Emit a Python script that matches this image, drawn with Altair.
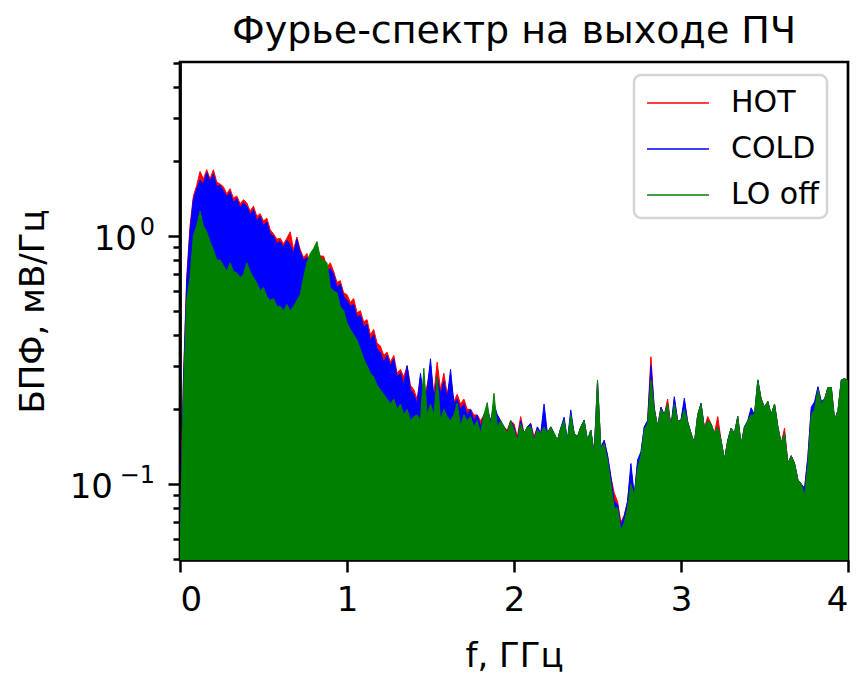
import altair as alt
import pandas as pd

# ---- data (upper envelope of the dense FFT spectra) ----
FREQ = [
    0.00, 0.02, 0.04, 0.06, 0.08, 0.10, 0.12, 0.14, 0.16, 0.18,
    0.20, 0.22, 0.24, 0.26, 0.28, 0.30, 0.32, 0.34, 0.36, 0.38,
    0.40, 0.42, 0.44, 0.46, 0.48, 0.50, 0.52, 0.54, 0.56, 0.58,
    0.60, 0.62, 0.64, 0.66, 0.68, 0.70, 0.72, 0.74, 0.76, 0.78,
    0.80, 0.82, 0.84, 0.86, 0.88, 0.90, 0.92, 0.94, 0.96, 0.98,
    1.00, 1.02, 1.04, 1.06, 1.08, 1.10, 1.12, 1.14, 1.16, 1.18,
    1.20, 1.22, 1.24, 1.26, 1.28, 1.30, 1.32, 1.34, 1.36, 1.38,
    1.40, 1.42, 1.44, 1.46, 1.48, 1.50, 1.52, 1.54, 1.56, 1.58,
    1.60, 1.62, 1.64, 1.66, 1.68, 1.70, 1.72, 1.74, 1.76, 1.78,
    1.80, 1.82, 1.84, 1.86, 1.88, 1.90, 1.92, 1.94, 1.96, 1.98,
    2.00, 2.02, 2.04, 2.06, 2.08, 2.10, 2.12, 2.14, 2.16, 2.18,
    2.20, 2.22, 2.24, 2.26, 2.28, 2.30, 2.32, 2.34, 2.36, 2.38,
    2.40, 2.42, 2.44, 2.46, 2.48, 2.50, 2.52, 2.54, 2.56, 2.58,
    2.60, 2.62, 2.64, 2.66, 2.68, 2.70, 2.72, 2.74, 2.76, 2.78,
    2.80, 2.82, 2.84, 2.86, 2.88, 2.90, 2.92, 2.94, 2.96, 2.98,
    3.00, 3.02, 3.04, 3.06, 3.08, 3.10, 3.12, 3.14, 3.16, 3.18,
    3.20, 3.22, 3.24, 3.26, 3.28, 3.30, 3.32, 3.34, 3.36, 3.38,
    3.40, 3.42, 3.44, 3.46, 3.48, 3.50, 3.52, 3.54, 3.56, 3.58,
    3.60, 3.62, 3.64, 3.66, 3.68, 3.70, 3.72, 3.74, 3.76, 3.78,
    3.80, 3.82, 3.84, 3.86, 3.88, 3.90, 3.92, 3.94, 3.96, 3.98,
    4.00,
]

HOT = [
    0.05, 0.26, 0.68, 1.10, 1.45, 1.60, 1.82, 1.70, 1.85, 1.70,
    1.85, 1.65, 1.62, 1.58, 1.48, 1.55, 1.42, 1.45, 1.35, 1.40,
    1.36, 1.26, 1.32, 1.20, 1.23, 1.15, 1.18, 1.06, 1.02, 0.97,
    0.98, 0.93, 0.98, 1.04, 0.88, 0.99, 0.88, 0.82, 0.85, 0.78,
    0.86, 0.88, 0.83, 0.83, 0.75, 0.78, 0.72, 0.65, 0.66, 0.59,
    0.58, 0.54, 0.56, 0.49, 0.50, 0.45, 0.46, 0.40, 0.42, 0.37,
    0.36, 0.33, 0.34, 0.31, 0.33, 0.28, 0.29, 0.27, 0.30, 0.25,
    0.24, 0.22, 0.27, 0.23, 0.25, 0.30, 0.23, 0.31, 0.24, 0.28,
    0.23, 0.27, 0.215, 0.23, 0.21, 0.22, 0.20, 0.20, 0.19, 0.19,
    0.18, 0.19, 0.20, 0.18, 0.20, 0.19, 0.18, 0.17, 0.165, 0.18,
    0.175, 0.155, 0.187, 0.16, 0.17, 0.176, 0.155, 0.17, 0.16, 0.19,
    0.16, 0.17, 0.16, 0.15, 0.168, 0.18, 0.15, 0.19, 0.16, 0.155,
    0.17, 0.18, 0.15, 0.165, 0.133, 0.255, 0.14, 0.15, 0.13, 0.107,
    0.092, 0.085, 0.07, 0.075, 0.085, 0.115, 0.09, 0.12, 0.13, 0.17,
    0.18, 0.326, 0.20, 0.17, 0.204, 0.19, 0.22, 0.17, 0.22, 0.18,
    0.181, 0.215, 0.178, 0.16, 0.146, 0.19, 0.21, 0.168, 0.187, 0.175,
    0.16, 0.187, 0.15, 0.125, 0.15, 0.168, 0.16, 0.187, 0.144, 0.17,
    0.18, 0.20, 0.19, 0.26, 0.22, 0.204, 0.215, 0.19, 0.21, 0.17,
    0.146, 0.168, 0.121, 0.13, 0.121, 0.104, 0.10, 0.096, 0.129, 0.20,
    0.21, 0.245, 0.215, 0.22, 0.245, 0.245, 0.181, 0.198, 0.263, 0.266,
    0.26,
]

COLD = [
    0.05, 0.25, 0.65, 1.05, 1.40, 1.55, 1.68, 1.62, 1.80, 1.66,
    1.78, 1.58, 1.60, 1.52, 1.44, 1.50, 1.36, 1.42, 1.30, 1.36,
    1.32, 1.22, 1.28, 1.15, 1.20, 1.10, 1.14, 1.02, 1.00, 0.93,
    0.95, 0.90, 0.96, 0.92, 0.85, 0.97, 0.86, 0.80, 0.82, 0.75,
    0.85, 0.86, 0.80, 0.80, 0.72, 0.74, 0.70, 0.62, 0.64, 0.57,
    0.55, 0.52, 0.53, 0.47, 0.48, 0.43, 0.44, 0.38, 0.40, 0.35,
    0.34, 0.31, 0.33, 0.30, 0.32, 0.27, 0.28, 0.25, 0.30, 0.24,
    0.23, 0.21, 0.28, 0.22, 0.24, 0.32, 0.22, 0.27, 0.23, 0.26,
    0.22, 0.29, 0.21, 0.22, 0.20, 0.21, 0.19, 0.20, 0.18, 0.19,
    0.17, 0.19, 0.20, 0.18, 0.21, 0.19, 0.18, 0.17, 0.16, 0.18,
    0.17, 0.15, 0.18, 0.16, 0.17, 0.175, 0.15, 0.17, 0.16, 0.21,
    0.16, 0.17, 0.16, 0.15, 0.168, 0.186, 0.15, 0.199, 0.16, 0.155,
    0.17, 0.181, 0.15, 0.165, 0.133, 0.26, 0.14, 0.15, 0.131, 0.107,
    0.085, 0.083, 0.068, 0.074, 0.085, 0.121, 0.09, 0.125, 0.135, 0.17,
    0.18, 0.30, 0.203, 0.17, 0.204, 0.19, 0.21, 0.17, 0.225, 0.18,
    0.181, 0.222, 0.178, 0.16, 0.146, 0.19, 0.212, 0.168, 0.18, 0.175,
    0.16, 0.17, 0.15, 0.125, 0.15, 0.168, 0.16, 0.187, 0.144, 0.17,
    0.18, 0.203, 0.19, 0.263, 0.22, 0.204, 0.215, 0.19, 0.21, 0.17,
    0.146, 0.16, 0.121, 0.13, 0.121, 0.104, 0.10, 0.096, 0.129, 0.204,
    0.215, 0.247, 0.215, 0.22, 0.245, 0.245, 0.181, 0.198, 0.263, 0.266,
    0.26,
]

LO_OFF = [
    0.05, 0.22, 0.55, 0.68, 1.00, 1.10, 1.26, 1.10, 1.04, 0.95,
    0.88, 0.80, 0.80, 0.76, 0.72, 0.78, 0.72, 0.71, 0.68, 0.70,
    0.78, 0.72, 0.68, 0.645, 0.60, 0.62, 0.57, 0.55, 0.56, 0.52,
    0.52, 0.50, 0.53, 0.50, 0.52, 0.55, 0.58, 0.68, 0.78, 0.85,
    0.89, 0.95, 0.82, 0.80, 0.78, 0.62, 0.60, 0.59, 0.52, 0.50,
    0.446, 0.42, 0.40, 0.38, 0.35, 0.32, 0.30, 0.28, 0.27, 0.25,
    0.24, 0.23, 0.22, 0.21, 0.22, 0.20, 0.21, 0.19, 0.20, 0.18,
    0.187, 0.19, 0.18, 0.293, 0.19, 0.21, 0.19, 0.27, 0.18, 0.20,
    0.187, 0.18, 0.19, 0.212, 0.17, 0.19, 0.18, 0.187, 0.17, 0.18,
    0.16, 0.19, 0.213, 0.17, 0.232, 0.17, 0.18, 0.17, 0.16, 0.18,
    0.165, 0.15, 0.175, 0.16, 0.17, 0.17, 0.15, 0.165, 0.16, 0.17,
    0.16, 0.17, 0.16, 0.15, 0.168, 0.18, 0.15, 0.19, 0.16, 0.155,
    0.17, 0.18, 0.15, 0.165, 0.13, 0.263, 0.14, 0.145, 0.125, 0.10,
    0.08, 0.08, 0.065, 0.07, 0.08, 0.10, 0.09, 0.115, 0.13, 0.165,
    0.175, 0.263, 0.20, 0.17, 0.20, 0.19, 0.21, 0.17, 0.21, 0.18,
    0.18, 0.20, 0.178, 0.16, 0.146, 0.19, 0.21, 0.168, 0.18, 0.175,
    0.16, 0.17, 0.15, 0.125, 0.15, 0.168, 0.16, 0.187, 0.144, 0.17,
    0.18, 0.19, 0.19, 0.263, 0.22, 0.204, 0.215, 0.19, 0.21, 0.17,
    0.146, 0.16, 0.121, 0.13, 0.121, 0.104, 0.10, 0.09, 0.12, 0.19,
    0.20, 0.24, 0.21, 0.22, 0.245, 0.245, 0.181, 0.198, 0.263, 0.266,
    0.26,
]

SERIES = ["HOT", "COLD", "LO off"]
COLORS = ["#ff0000", "#0000ff", "#008000"]
X_TICKS = [0, 1, 2, 3, 4]
Y_TICKS = [0.05, 0.06, 0.07, 0.08, 0.09, 0.1, 0.2, 0.3, 0.4, 0.5, 0.6, 0.7,
           0.8, 0.9, 1, 2, 3, 4, 5]
Y_MAJOR = [1, 0.1]
Y_MAJOR_EXP = ["0", "−1"]
Y_DOMAIN = [0.0494, 5.03]

TITLE = "Фурье-спектр на выходе ПЧ"
X_TITLE = "f, ГГц"
Y_TITLE = "БПФ, мВ/Гц"

W, H = 668, 498
FONT = "DejaVu Sans"

frames = {
    "HOT": pd.DataFrame({"f": FREQ, "v": HOT, "series": "HOT"}),
    "COLD": pd.DataFrame({"f": FREQ, "v": COLD, "series": "COLD"}),
    "LO off": pd.DataFrame({"f": FREQ, "v": LO_OFF, "series": "LO off"}),
}

x_enc = alt.X(
    "f:Q",
    scale=alt.Scale(domain=[0, 4], nice=False, zero=False),
    axis=alt.Axis(
        values=X_TICKS, format="d", title=X_TITLE, grid=False,
        tickSize=12, tickWidth=2.5, tickColor="black",
        labelFontSize=34, labelPadding=11, labelColor="black",
        titleFontSize=34, titleFontWeight="normal", titleColor="black",
        titleBaseline="alphabetic", titleY=106,
        domainColor="black", domainWidth=2.7,
    ),
)

y_scale = alt.Scale(type="log", domain=Y_DOMAIN, nice=False)
y_enc = alt.Y(
    "v:Q",
    scale=y_scale,
    axis=alt.Axis(
        values=Y_TICKS, grid=False, labels=False,
        tickSize={"condition": {"test": "datum.value == 1 || datum.value == 0.1", "value": 12}, "value": 7},
        tickWidth=2.5, tickColor="black",
        title=Y_TITLE, titleFontSize=34, titleFontWeight="normal", titleColor="black",
        titleX=-130, titleY=H / 2, titleAngle=270, titleBaseline="bottom", titleAlign="center",
        domainColor="black", domainWidth=2.7,
    ),
)

stroke_scale = alt.Scale(domain=SERIES, range=COLORS)

legend = alt.Legend(
    title=None, orient="none", legendX=454, legendY=13,
    symbolType="M-1.63,0H1.63", symbolSize=1444, symbolStrokeWidth=1.5,
    symbolOffset=16,
    labelFontSize=30, labelFont=FONT, labelColor="black", labelOffset=33,
    rowPadding=11, padding=8, fillColor="white",
)

layers = []
for name, col in zip(SERIES, COLORS):
    base = alt.Chart(frames[name])
    area = base.mark_area(clip=True, interpolate="linear", color=col, opacity=1).encode(
        x=x_enc, y=y_enc, y2=alt.Y2(datum=Y_DOMAIN[0]),
    )
    line = base.mark_line(clip=True, strokeWidth=1).encode(
        x=x_enc, y=y_enc,
        stroke=alt.Stroke("series:N", scale=stroke_scale, legend=legend),
    )
    layers += [area, line]

# y tick labels written as 10 with a raised exponent (like matplotlib's mathtext)
for v, e, base_x in zip(Y_MAJOR, Y_MAJOR_EXP, [-43, -67]):
    lab = alt.Chart(pd.DataFrame({"v": [v], "b": ["10"], "e": [e]}))
    layers.append(
        lab.mark_text(align="right", baseline="alphabetic", dy=14, fontSize=34,
                      font=FONT, color="black")
        .encode(x=alt.value(base_x), y=y_enc, text="b:N")
    )
    layers.append(
        lab.mark_text(align="right", baseline="alphabetic", dy=-1, fontSize=24,
                      font=FONT, color="black")
        .encode(x=alt.value(-25), y=y_enc, text="e:N")
    )

# chart title
layers.append(
    alt.Chart(pd.DataFrame({"t": [TITLE]}))
    .mark_text(align="center", baseline="alphabetic", fontSize=38, font=FONT, color="black")
    .encode(x=alt.value(W / 2), y=alt.value(-19), text="t:N")
)

chart = (
    alt.layer(*layers)
    .properties(
        width=W, height=H,
        autosize=alt.AutoSizeParams(type="none"),
        padding={"left": 172, "top": 54, "right": 8, "bottom": 117},
    )
    .configure(font=FONT)
    .configure_view(stroke="black", strokeWidth=2.7)
    .configure_legend(strokeColor="#d5d5d5", strokeWidth=2.5, cornerRadius=7)
)

chart.save("out.html", embed_options={"renderer": "svg", "actions": False})
